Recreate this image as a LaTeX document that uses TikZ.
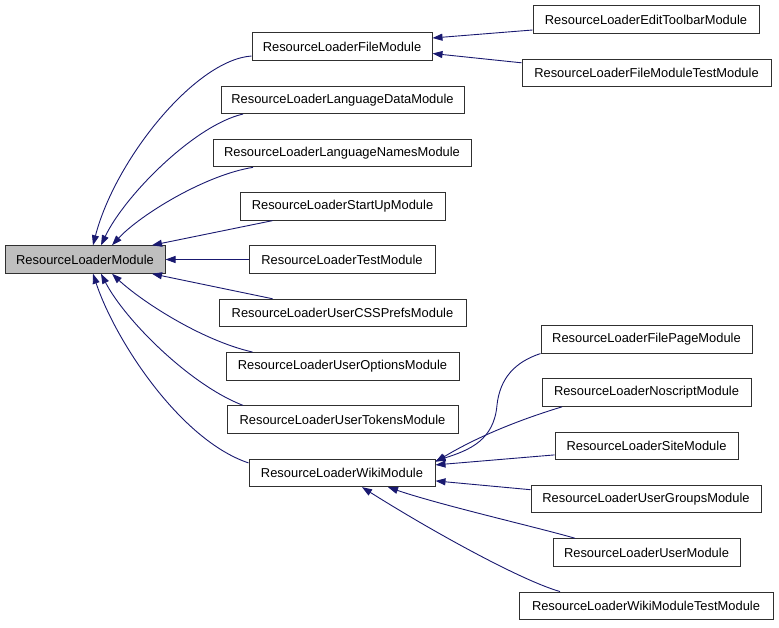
\documentclass[tikz,border=0pt]{standalone}
\usepackage{fontspec}
\setmainfont{Liberation Sans}
\usetikzlibrary{arrows.meta}
\definecolor{edgeblue}{HTML}{191970}
\definecolor{boxline}{HTML}{303030}
\definecolor{maingray}{HTML}{BFBFBF}
\begin{document}
\begin{tikzpicture}[x=1pt,y=-1pt,
  cls/.style={draw=boxline, line width=1pt, fill=white, minimum height=27.5pt,
    inner sep=0pt, font=\fontsize{12.9}{15}\selectfont},
  edge/.style={draw=edgeblue, line width=0.9pt, -{Triangle[length=10pt,width=7pt]}}]
\useasboundingbox (0,0) rectangle (779,627);
% nodes
\node[cls, fill=maingray, minimum width=160pt] (main) at (85,259.5) {ResourceLoaderModule};
\node[cls, minimum width=180pt] (fm)  at (342,46.5)  {ResourceLoaderFileModule};
\node[cls, minimum width=243pt] (ld)  at (342.5,99.8) {ResourceLoaderLanguageDataModule};
\node[cls, minimum width=258pt] (ln)  at (342,153.1) {ResourceLoaderLanguageNamesModule};
\node[cls, minimum width=205pt] (su)  at (342.5,206.4) {ResourceLoaderStartUpModule};
\node[cls, minimum width=186pt] (tm)  at (342,259.5) {ResourceLoaderTestModule};
\node[cls, minimum width=247pt] (css) at (342.5,313) {ResourceLoaderUserCSSPrefsModule};
\node[cls, minimum width=233pt] (uo)  at (342.5,366.3) {ResourceLoaderUserOptionsModule};
\node[cls, minimum width=231pt] (ut)  at (342.5,419.6) {ResourceLoaderUserTokensModule};
\node[cls, minimum width=186pt] (wm)  at (342,472.9) {ResourceLoaderWikiModule};
\node[cls, minimum width=226pt] (et)  at (646,19.5) {ResourceLoaderEditToolbarModule};
\node[cls, minimum width=249pt] (fmt) at (646.5,72.8) {ResourceLoaderFileModuleTestModule};
\node[cls, minimum width=211pt] (fp)  at (646.5,339.3) {ResourceLoaderFilePageModule};
\node[cls, minimum width=209pt] (ns)  at (646.5,392.6) {ResourceLoaderNoscriptModule};
\node[cls, minimum width=183pt] (site) at (646.5,445.9) {ResourceLoaderSiteModule};
\node[cls, minimum width=230pt] (ug)  at (646,499.2) {ResourceLoaderUserGroupsModule};
\node[cls, minimum width=187pt] (us)  at (646.5,552.5) {ResourceLoaderUserModule};
\node[cls, minimum width=254pt] (wmt) at (646,605.8) {ResourceLoaderWikiModuleTestModule};
% edges to ResourceLoaderModule
\draw[edge] ([yshift=-9.5pt]fm.west) .. controls (195,60) and (115,160) .. ([xshift=8pt]main.north);
\draw[edge] ([xshift=-99.5pt]ld.south) .. controls (195,125) and (125,195) .. ([xshift=16pt]main.north);
\draw[edge] ([xshift=-89pt]ln.south) .. controls (205,175) and (140,215) .. ([xshift=27pt]main.north);
\draw[edge] ([xshift=-70pt]su.south) -- ([xshift=67pt]main.north);
\draw[edge] (tm.west) -- (main.east);
\draw[edge] ([xshift=-70pt]css.north) -- ([xshift=67pt]main.south);
\draw[edge] ([xshift=-90pt]uo.north) .. controls (200,340) and (140,300) .. ([xshift=27pt]main.south);
\draw[edge] ([xshift=-99.5pt]ut.north) .. controls (190,385) and (125,320) .. ([xshift=16pt]main.south);
\draw[edge] ([yshift=10pt]wm.west) .. controls (180,440) and (115,340) .. ([xshift=8pt]main.south);
% edges to ResourceLoaderFileModule
\draw[edge] ([yshift=-10.5pt]et.west) -- ([yshift=8.5pt]fm.east);
\draw[edge] ([yshift=10pt]fmt.west) -- ([yshift=-7pt]fm.east);
% edges to ResourceLoaderWikiModule
\draw[edge] (fp.south west) .. controls (515,362) and (500,378) .. (497,405)
  .. controls (494,440) and (470,450) .. ([yshift=12pt]wm.east);
\draw[edge] ([xshift=-84.5pt]ns.south) .. controls (525,418) and (480,435) .. ([yshift=11pt]wm.east);
\draw[edge] ([yshift=-9pt]site.west) -- ([yshift=8pt]wm.east);
\draw[edge] ([yshift=9.5pt]ug.west) -- ([yshift=-8pt]wm.east);
\draw[edge] ([xshift=-71.5pt]us.north) .. controls (540,528) and (440,505) .. ([xshift=46pt]wm.south);
\draw[edge] ([xshift=-86pt]wmt.north) .. controls (520,580) and (430,530) .. ([xshift=20pt]wm.south);
\end{tikzpicture}
\end{document}
